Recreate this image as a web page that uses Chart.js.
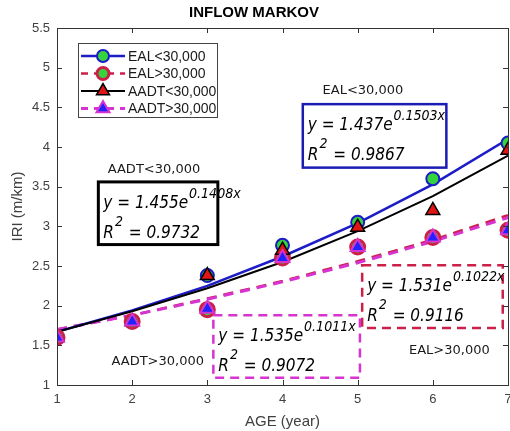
<!DOCTYPE html>
<html>
<head>
<meta charset="utf-8">
<script src="https://cdn.jsdelivr.net/npm/chart.js@4.4.0/dist/chart.umd.min.js"></script>
<style>
  html, body { margin: 0; padding: 0; background: #fff; }
  canvas { display: block; }
</style>
</head>
<body>
<canvas id="chart-iri" width="510" height="431"></canvas>
<script>
const ages = [1, 2, 3, 4, 5, 6, 7];
const yTicks = [1, 1.5, 2, 2.5, 3, 3.5, 4, 4.5, 5, 5.5];

// markov results (markers)
const ealLow = [1.6, 1.8, 2.38, 2.76, 3.05, 3.6, 4.05];
const ealHigh = [1.6, 1.8, 1.95, 2.6, 2.74, 2.86, 2.95];
const aadtLow = [1.6, 1.8, 2.38, 2.7, 2.99, 3.2, 3.96];
const aadtHigh = [1.6, 1.8, 1.96, 2.6, 2.74, 2.86, 2.95];

// exponential fit curves
const ealLowFit = [1.67, 1.94, 2.25, 2.62, 3.04, 3.53, 4.10];
const ealHighFit = [1.70, 1.88, 2.09, 2.31, 2.56, 2.83, 3.14];
const aadtLowFit = [1.67, 1.93, 2.22, 2.55, 2.94, 3.38, 3.89];
const aadtHighFit = [1.70, 1.88, 2.08, 2.30, 2.54, 2.81, 3.11];

const labels = ["EAL<30,000", "EAL>30,000", "AADT<30,000", "AADT>30,000"];
const fitCoef = ["1.437", "1.531", "1.455", "1.535"];
const fitExp = ["0.1503x", "0.1022x", "0.1408x", "0.1011x"];
const fitR2 = ["0.9867", "0.9116", "0.9732", "0.9072"];

const SANS = "'Liberation Sans', Arial, sans-serif";
const EQ_FONT = "italic 17px 'DejaVu Sans Condensed', 'DejaVu Sans', sans-serif";
const SUP_FONT = "italic 14px 'DejaVu Sans Condensed', 'DejaVu Sans', sans-serif";
const LBL_FONT = "13px 'DejaVu Sans', sans-serif";

const BLUE = "#1c1cc8";
const CRIMSON = "#cc2049";
const MAGENTA = "#d633d0";
const GREEN = "#36d43c";

// equation boxes, in axis units
const boxes = [
    { s: 0, x0: 4.27, x1: 6.18, y0: 3.74, y1: 4.54, color: "#1c1cb4", dash: [], lw: 2.5, lx: 5.07, ly: 4.71 },
    { s: 1, x0: 5.06, x1: 6.93, y0: 1.72, y1: 2.51, color: CRIMSON, dash: [9, 6], lw: 2.5, lx: 6.22, ly: 1.43 },
    { s: 2, x0: 1.55, x1: 3.14, y0: 2.77, y1: 3.56, color: "#000", dash: [], lw: 3, lx: 2.29, ly: 3.72 },
    { s: 3, x0: 3.08, x1: 5.03, y0: 1.09, y1: 1.88, color: MAGENTA, dash: [9, 6], lw: 2.5, lx: 2.34, ly: 1.30 },
];

const pts = (arr) => ages.map((a, i) => ({ x: a, y: arr[i] }));

function fitLine(label, arr, color, dash, width, order) {
    return {
        label: label, data: pts(arr), borderColor: color, borderWidth: width, borderDash: dash,
        pointRadius: 0, fill: false, tension: 0, order: order,
    };
}
function markers(label, arr, style, fill, edge, r, bw, order) {
    return {
        label: label, data: pts(arr), showLine: false, pointStyle: style, pointRadius: r,
        pointBackgroundColor: fill, pointBorderColor: edge, pointBorderWidth: bw, order: order,
    };
}

const datasets = [
    fitLine(labels[0] + " fit", ealLowFit, BLUE, [], 2.5, 6),
    fitLine(labels[1] + " fit", ealHighFit, CRIMSON, [10, 7], 2.5, 8),
    fitLine(labels[2] + " fit", aadtLowFit, "#000", [], 2, 5),
    fitLine(labels[3] + " fit", aadtHighFit, MAGENTA, [10, 7], 3, 7),
    markers(labels[0], ealLow, "circle", GREEN, BLUE, 6.5, 2, 4),
    markers(labels[1], ealHigh, "circle", GREEN, CRIMSON, 7, 3, 3),
    markers(labels[2], aadtLow, "triangle", "#e01515", "#000", 8, 1.5, 2),
    markers(labels[3], aadtHigh, "triangle", "#2222ff", MAGENTA, 8, 2, 1),
];

function markerPath(ctx, style, x, y, r) {
    ctx.beginPath();
    if (style === "circle") {
        ctx.arc(x, y, r, 0, Math.PI * 2);
    } else {
        ctx.moveTo(x, y - r);
        ctx.lineTo(x + r * Math.sin(Math.PI * 2 / 3), y - r * Math.cos(Math.PI * 2 / 3));
        ctx.lineTo(x - r * Math.sin(Math.PI * 2 / 3), y - r * Math.cos(Math.PI * 2 / 3));
        ctx.closePath();
    }
}

function drawEquation(ctx, left, top, s) {
    const x = left + 5;
    const b1 = top + 26, b2 = top + 56;
    ctx.fillStyle = "#000";
    ctx.textAlign = "left";
    ctx.textBaseline = "alphabetic";
    ctx.font = EQ_FONT;
    const head = "y = " + fitCoef[s] + "e";
    ctx.fillText(head, x, b1);
    const w1 = ctx.measureText(head).width;
    ctx.fillText("R", x, b2);
    const wr = ctx.measureText("R").width;
    ctx.font = SUP_FONT;
    ctx.fillText(fitExp[s], x + w1 + 1, b1 - 10);
    ctx.fillText("2", x + wr + 1, b2 - 12);
    const w2 = ctx.measureText("2").width;
    ctx.font = EQ_FONT;
    ctx.fillText(" = " + fitR2[s], x + wr + w2 + 2, b2);
}

const framePlugin = {
    id: "frame",
    afterDatasetsDraw(chart) {
        const { ctx, chartArea: a, scales } = chart;
        const sx = scales.x, sy = scales.y;
        ctx.save();

        // equation boxes + labels
        boxes.forEach((bx) => {
            const l = sx.getPixelForValue(bx.x0), r = sx.getPixelForValue(bx.x1);
            const t = sy.getPixelForValue(bx.y1), b = sy.getPixelForValue(bx.y0);
            ctx.strokeStyle = bx.color;
            ctx.lineWidth = bx.lw;
            ctx.setLineDash(bx.dash);
            ctx.strokeRect(l, t, r - l, b - t);
            ctx.setLineDash([]);
            drawEquation(ctx, l, t, bx.s);
            ctx.font = LBL_FONT;
            ctx.fillStyle = "#1a1a1a";
            ctx.textAlign = "center";
            ctx.textBaseline = "middle";
            ctx.fillText(labels[bx.s], sx.getPixelForValue(bx.lx), sy.getPixelForValue(bx.ly));
        });

        // axes box with inward ticks
        ctx.strokeStyle = "#333";
        ctx.lineWidth = 1;
        ctx.strokeRect(a.left + 0.5, a.top + 0.5, a.right - a.left, a.bottom - a.top);
        ctx.beginPath();
        sx.ticks.forEach((t) => {
            const px = Math.round(sx.getPixelForValue(t.value)) + 0.5;
            ctx.moveTo(px, a.bottom); ctx.lineTo(px, a.bottom - 5);
            ctx.moveTo(px, a.top); ctx.lineTo(px, a.top + 5);
        });
        sy.ticks.forEach((t) => {
            const py = Math.round(sy.getPixelForValue(t.value)) + 0.5;
            ctx.moveTo(a.left, py); ctx.lineTo(a.left + 5, py);
            ctx.moveTo(a.right, py); ctx.lineTo(a.right - 5, py);
        });
        ctx.stroke();

        // legend
        const lx = a.left + 21, ly = a.top + 15, lw = 139, lh = 74;
        ctx.fillStyle = "#fff";
        ctx.fillRect(lx, ly, lw, lh);
        ctx.strokeStyle = "#444";
        ctx.lineWidth = 1;
        ctx.strokeRect(lx + 0.5, ly + 0.5, lw, lh);
        for (let i = 0; i < 4; i++) {
            const fit = datasets[i], mk = datasets[i + 4];
            const yy = ly + 13 + i * 17.5;
            ctx.strokeStyle = fit.borderColor;
            ctx.lineWidth = fit.borderWidth;
            ctx.setLineDash(fit.borderDash.length ? [7, 6] : []);
            ctx.beginPath();
            ctx.moveTo(lx + 3, yy);
            ctx.lineTo(lx + 47, yy);
            ctx.stroke();
            ctx.setLineDash([]);
            markerPath(ctx, mk.pointStyle, lx + 25, yy, mk.pointStyle === "circle" ? 6 : 7.5);
            ctx.fillStyle = mk.pointBackgroundColor;
            ctx.fill();
            ctx.strokeStyle = mk.pointBorderColor;
            ctx.lineWidth = mk.pointBorderWidth;
            ctx.stroke();
            ctx.font = "14px " + SANS;
            ctx.fillStyle = "#1a1a1a";
            ctx.textAlign = "left";
            ctx.textBaseline = "middle";
            ctx.fillText(mk.label, lx + 50, yy + 1);
        }
        ctx.restore();
    },
};

const config = {
    type: "line",
    data: { datasets: datasets },
    options: {
        responsive: false,
        animation: false,
        devicePixelRatio: 1,
        layout: { autoPadding: false, padding: { left: 0, right: 2, top: 0, bottom: 0 } },
        plugins: {
            legend: { display: false },
            tooltip: { enabled: false },
            title: {
                display: true,
                text: "INFLOW MARKOV",
                color: "#000",
                font: { family: SANS, size: 15, weight: "bold" },
                padding: { top: 4, bottom: 6 },
            },
        },
        scales: {
            x: {
                type: "linear",
                min: 1,
                max: 7,
                afterBuildTicks: (s) => { s.ticks = ages.map((v) => ({ value: v })); },
                afterFit: (s) => { s.height = 46; s.paddingLeft = 0; s.paddingRight = 0; },
                grid: { display: false, drawTicks: false },
                border: { display: false },
                ticks: { color: "#404040", font: { family: SANS, size: 13 }, padding: 7, autoSkip: false, maxRotation: 0, callback: (v) => String(v) },
                title: { display: true, text: "AGE (year)", color: "#404040", font: { family: SANS, size: 15 }, padding: { top: 0, bottom: 0 } },
            },
            y: {
                min: 1,
                max: 5.5,
                afterBuildTicks: (s) => { s.ticks = yTicks.map((v) => ({ value: v })); },
                afterFit: (s) => { s.width = 57; s.paddingTop = 0; s.paddingBottom = 0; },
                grid: { display: false, drawTicks: false },
                border: { display: false },
                ticks: { color: "#404040", font: { family: SANS, size: 13 }, padding: 7, autoSkip: false, callback: (v) => String(v) },
                title: { display: true, text: "IRI (m/km)", color: "#404040", font: { family: SANS, size: 15 }, padding: { top: 9, bottom: 0 } },
            },
        },
    },
    plugins: [framePlugin],
};

const canvas = document.getElementById("chart-iri");
const chart = new Chart(canvas, config);
</script>
</body>
</html>
